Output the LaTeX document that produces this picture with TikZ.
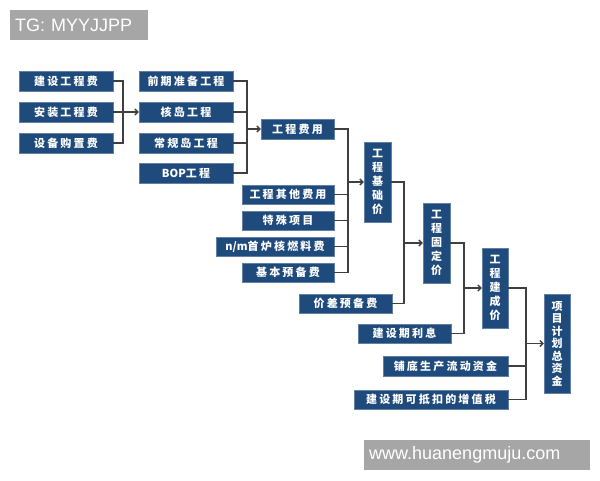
\documentclass[tikz,border=0pt]{standalone}
\usepackage{fontspec}
\newfontfamily\cjk{Noto Sans CJK SC}
\setsansfont{Liberation Sans}
\usetikzlibrary{arrows.meta, positioning}

\definecolor{navy}{HTML}{1F4A7C}
\definecolor{wire}{HTML}{3F3F3F}
\definecolor{markgray}{HTML}{A6A6A6}

\newcommand{\tight}[1]{{\addfontfeature{LetterSpace=0}#1}}

\begin{document}
\begin{tikzpicture}[
    x=1pt, y=-1pt,
    box/.style = {fill=navy, draw=navy!70!white, text=white, inner sep=0pt,
                  minimum height=20pt, align=center,
                  font=\cjk\bfseries\fontsize{11}{14}\selectfont\addfontfeature{LetterSpace=20}},
    vbox/.style = {box, minimum width=27pt, minimum height=80pt,
                   font=\cjk\bfseries\fontsize{11}{14}\selectfont},
    link/.style = {draw=wire, line width=1.4pt},
    arrow/.style = {link, -{Straight Barb[length=3pt, width=6pt]}},
    tag/.style = {fill=markgray, text=white, inner xsep=5pt, inner ysep=0pt,
                  align=left, font=\sffamily\fontsize{18}{20}\selectfont}
  ]
  \useasboundingbox (0,0) rectangle (600,480);

  % watermarks
  \node[tag, anchor=north west, text width=128pt, minimum height=30pt] (tg) at (10,10) {TG: MYYJJPP};
  \node[tag, anchor=north west, text width=216pt, minimum height=30pt] (site) at (364,440) {www.huanengmuju.com};

  % first column
  \node[box, minimum width=94pt] (jsgcf) at (66,81) {建设工程费};
  \node[box, minimum width=94pt] (azgcf) at (66,112) {安装工程费};
  \node[box, minimum width=94pt] (sbgzf) at (66,143) {设备购置费};

  % second column
  \node[box, minimum width=94pt] (qqzb) at (186,81) {前期准备工程};
  \node[box, minimum width=94pt] (hdgc) at (186,112) {核岛工程};
  \node[box, minimum width=94pt] (cgdgc) at (186,143) {常规岛工程};
  \node[box, minimum width=94pt] (bopgc) at (186,173) {\tight{BOP}工程};

  % engineering cost and the other items
  \node[box, minimum width=73pt] (gcfy) at (297.5,129) {工程费用};
  \node[box, minimum width=92pt, minimum height=19pt] (qtfy) at (288,194.5) {工程其他费用};
  \node[box, minimum width=92pt, minimum height=19pt] (tsxm) at (288,220.5) {特殊项目};
  \node[box, minimum width=118pt, minimum height=19pt] (hrlf) at (275,246.5) {\tight{n/m}首炉核燃料费};
  \node[box, minimum width=92pt, minimum height=19pt] (jbyb) at (288,272.5) {基本预备费};

  % price levels
  \node[vbox] (jcj) at (377.5,182) {工\\程\\基\\础\\价};
  \node[box, minimum width=93pt, minimum height=19pt] (jcyb) at (345.5,303.5) {价差预备费};
  \node[vbox] (gdj) at (436.5,243) {工\\程\\固\\定\\价};
  \node[box, minimum width=93pt, minimum height=19pt] (lx) at (404.5,333.5) {建设期利息};
  \node[vbox, minimum width=26pt] (jchj) at (495,288) {工\\程\\建\\成\\价};
  \node[box, minimum width=125pt] (pdzj) at (445.5,366) {铺底生产流动资金};
  \node[box, minimum width=154pt, minimum height=19pt] (zzs) at (431,399.5) {建设期可抵扣的增值税};
  \node[vbox, minimum width=26pt, minimum height=99pt,
        font=\cjk\bfseries\fontsize{11}{12.5}\selectfont] (zzj) at (557,343.5) {项\\目\\计\\划\\总\\资\\金};

  % bus points
  \coordinate (b1) at (123,112);
  \coordinate (b2) at (247,129);
  \coordinate (b3) at (348,182);
  \coordinate (b4) at (404,243);
  \coordinate (b5) at (464,288);
  \coordinate (b6) at (526,343.5);

  % connectors
  \foreach \src in {jsgcf, azgcf, sbgzf} \draw[link] (\src.east) -| (b1);
  \draw[arrow] (b1) -- (hdgc.west);

  \foreach \src in {qqzb, hdgc, cgdgc, bopgc} \draw[link] (\src.east) -| (b2);
  \draw[arrow] (b2) -- (gcfy.west);

  \foreach \src in {gcfy, qtfy, tsxm, hrlf, jbyb} \draw[link] (\src.east) -| (b3);
  \draw[arrow] (b3) -- (jcj.west);

  \foreach \src in {jcj, jcyb} \draw[link] (\src.east) -| (b4);
  \draw[arrow] (b4) -- (gdj.west);

  \foreach \src in {gdj, lx} \draw[link] (\src.east) -| (b5);
  \draw[arrow] (b5) -- (jchj.west);

  \foreach \src in {jchj, pdzj, zzs} \draw[link] (\src.east) -| (b6);
  \draw[arrow] (b6) -- (zzj.west);

\end{tikzpicture}
\end{document}
